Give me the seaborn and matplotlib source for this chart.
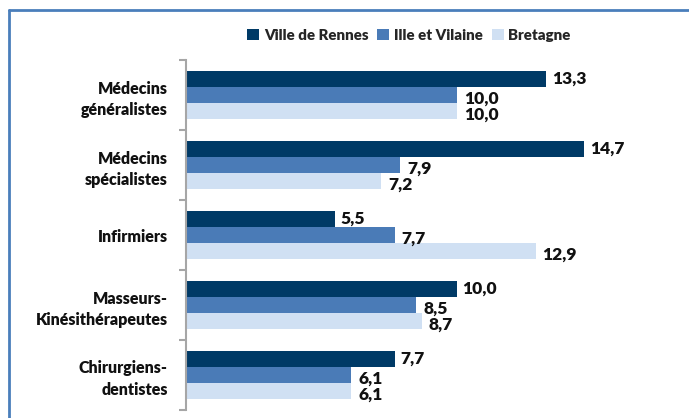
import matplotlib
matplotlib.use("Agg")
import matplotlib.pyplot as plt
import seaborn as sns
import pandas as pd
from matplotlib.lines import Line2D
from matplotlib.patches import Patch

categories = ["Médecins\ngénéralistes", "Médecins\nspécialistes", "Infirmiers",
              "Masseurs-\nKinésithérapeutes", "Chirurgiens-\ndentistes"]
series_names = ["Ville de Rennes", "Ille et Vilaine", "Bretagne"]
ville_rennes = [13.3, 14.7, 5.5, 10.0, 7.7]
ille_vilaine = [10.0, 7.9, 7.7, 8.5, 6.1]
bretagne = [10.0, 7.2, 12.9, 8.7, 6.1]
colors = ["#003a66", "#4a7bb7", "#d0e0f3"]

rows = []
for name, vals in zip(series_names, [ville_rennes, ille_vilaine, bretagne]):
    for c, v in zip(categories, vals):
        rows.append({"cat": c, "serie": name, "val": v})
df = pd.DataFrame(rows)

sns.set_theme(style="white")
FONT = ["Lato", "DejaVu Sans"]
W = "heavy"
plt.rcParams["font.family"] = FONT
plt.rcParams["font.weight"] = W

fig = plt.figure(figsize=(6.89, 4.18), dpi=100)
ax = fig.add_axes([186/689, 8/418, 474/689, 350/418])

sns.barplot(data=df, y="cat", x="val", hue="serie", order=categories,
            hue_order=series_names, palette=colors, orient="h",
            width=0.686, saturation=1, ax=ax, legend=False, linewidth=0)

ax.set_xlim(0, 474/27.1)
ax.set_ylim(4.5, -0.5)
ax.set_xlabel("")
ax.set_ylabel("")
ax.set_xticks([])
for s in ["top", "right", "bottom"]:
    ax.spines[s].set_visible(False)
ax.spines["left"].set_color("#a6a6a6")
ax.spines["left"].set_linewidth(1.5)

ax.set_yticks(range(len(categories)))
ax.set_yticklabels(categories, fontsize=11.5, fontweight=W, color="#111111",
                   linespacing=1.4)
ax.tick_params(axis="y", which="major", length=0, pad=13)
ax.set_yticks([i - 0.5 for i in range(len(categories) + 1)], minor=True)
ax.tick_params(axis="y", which="minor", length=5, width=1.5, color="#a6a6a6",
               left=True, direction="out")

fmt = lambda v: f"{v:.1f}".replace(".", ",")
for i, cont in enumerate(ax.containers):
    anns = ax.bar_label(cont, labels=[fmt(v) for v in cont.datavalues],
                        padding=4, fontsize=12.5, fontweight=W, color="#111111")
    if i > 0:
        for a in anns:
            a.xyann = (5, -2.5)

handles = [Patch(facecolor=c, edgecolor="none") for c in colors]
fig.legend(handles, series_names, loc="center", bbox_to_anchor=(409/689, 1 - 35/418),
           ncol=3, frameon=False, handlelength=0.8, handleheight=0.8,
           handletextpad=0.3, columnspacing=0.6,
           prop={"weight": W, "size": 10.8, "family": FONT})

# outer frame
fig.add_artist(Line2D([9/689, 9/689], [0, 1 - 10/418], transform=fig.transFigure,
                      color="#4a7ebb", linewidth=2))
fig.add_artist(Line2D([9/689, 1], [1 - 10/418, 1 - 10/418], transform=fig.transFigure,
                      color="#4a7ebb", linewidth=2))

fig.savefig("out.png", dpi=100)
